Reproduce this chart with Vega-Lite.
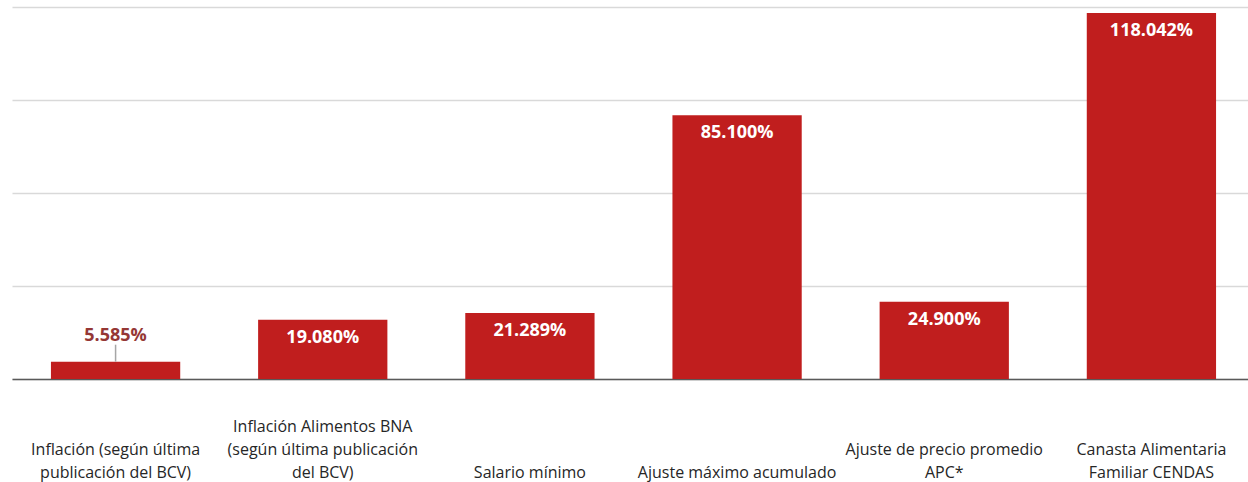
{
  "$schema": "https://vega.github.io/schema/vega-lite/v6.json",
  "width": 1236,
  "height": 372,
  "autosize": {"type": "none"},
  "padding": {"left": 12, "top": 7, "right": 0, "bottom": 103},
  "background": "white",
  "config": {
    "view": {"stroke": null},
    "locale": {"number": {"decimal": ",", "thousands": ".", "grouping": [3], "currency": ["", ""]}},
    "font": "Open Sans"
  },
  "data": {
    "values": [
      {"label": "Inflación (según última|publicación del BCV)", "value": 55.85},
      {"label": "Inflación Alimentos BNA|(según última publicación|del BCV)", "value": 190.80},
      {"label": "Salario mínimo", "value": 212.89},
      {"label": "Ajuste máximo acumulado", "value": 851.00},
      {"label": "Ajuste de precio promedio|APC*", "value": 249.00},
      {"label": "Canasta Alimentaria|Familiar CENDAS", "value": 1180.42}
    ]
  },
  "encoding": {
    "x": {
      "field": "label",
      "type": "nominal",
      "sort": null,
      "scale": {"range": [0, 1243], "paddingInner": 0.376, "paddingOuter": 0.188},
      "axis": {
        "title": null,
        "labelAngle": 0,
        "labelExpr": "length(split(datum.label,'|')) == 3 ? split(datum.label,'|') : length(split(datum.label,'|')) == 2 ? ['\u2800', split(datum.label,'|')[0], split(datum.label,'|')[1]] : ['\u2800', '\u2800', datum.label]",
        "labelBaseline": "alphabetic",
        "labelPadding": 52,
        "labelLineHeight": 23,
        "labelFontSize": 16,
        "labelFont": "Open Sans",
        "labelColor": "#262626",
        "labelLimit": 0,
        "ticks": false,
        "domainColor": "#595959",
        "domainWidth": 1.5,
        "grid": false
      }
    },
    "y": {
      "field": "value",
      "type": "quantitative",
      "scale": {"domain": [0, 1200]},
      "axis": {
        "title": null,
        "labels": false,
        "ticks": false,
        "domain": false,
        "values": [0, 300, 600, 900, 1200],
        "gridColor": "#d9d9d9",
        "gridWidth": 1.5
      }
    }
  },
  "layer": [
    {
      "mark": {"type": "bar", "color": "#C01E1E"}
    },
    {
      "transform": [{"filter": "datum.value >= 100"}],
      "mark": {"type": "text", "baseline": "alphabetic", "dy": 23, "color": "white", "fontWeight": "bold", "fontSize": 18, "font": "Open Sans"},
      "encoding": {"text": {"field": "value", "type": "quantitative", "format": ",.0%"}}
    },
    {
      "transform": [{"filter": "datum.value < 100"}],
      "mark": {"type": "text", "baseline": "alphabetic", "dy": -21, "color": "#953735", "fontWeight": "bold", "fontSize": 18, "font": "Open Sans"},
      "encoding": {"text": {"field": "value", "type": "quantitative", "format": ",.0%"}}
    },
    {
      "transform": [{"filter": "datum.value < 100"}],
      "mark": {"type": "rule", "color": "#a6a6a6", "strokeWidth": 1.5, "y2Offset": -17},
      "encoding": {"y2": {"field": "value"}}
    }
  ]
}
